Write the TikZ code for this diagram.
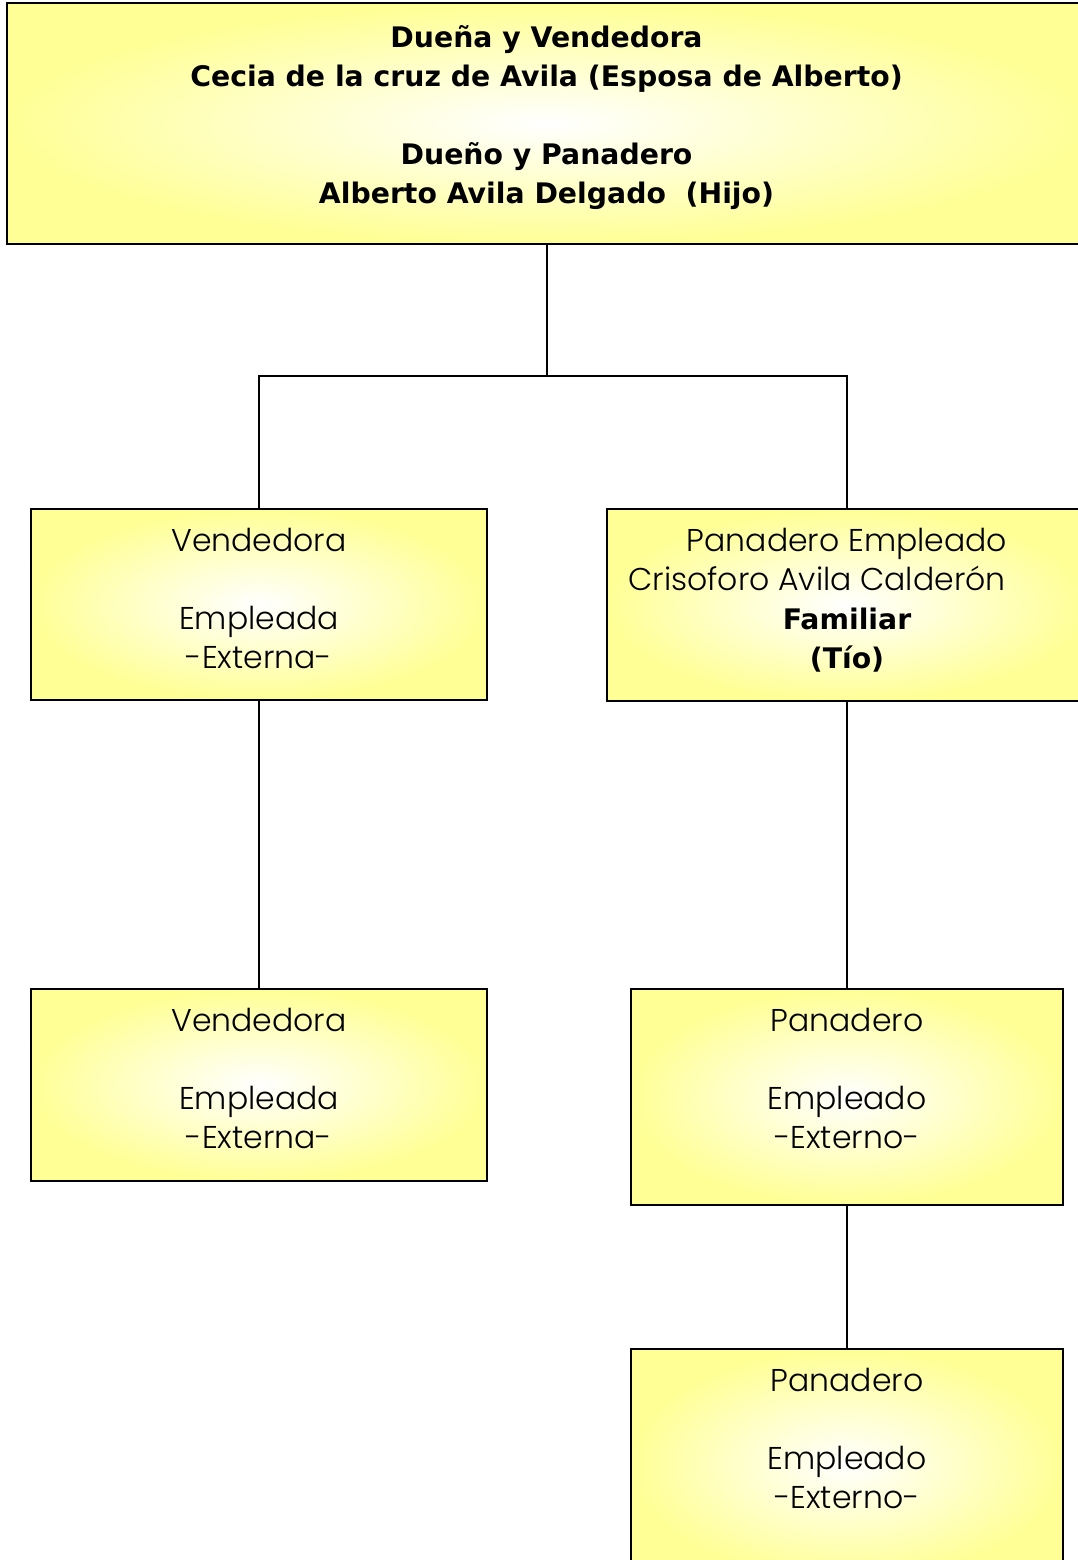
\documentclass[tikz,border=0pt]{standalone}
\usepackage{fontspec}
\setmainfont{Poppins}[UprightFont=* Light]
\newfontfamily\boldfam{DejaVu Sans}
\usetikzlibrary{calc}
\definecolor{boxyellow}{RGB}{255,255,150}
\tikzset{
  x=1pt, y=-1pt,
  orgbox/.style={draw=black, line width=1.7pt, rectangle, inner sep=0pt,
    inner color=white, outer color=boxyellow},
  conn/.style={draw=black, line width=1.7pt},
  reg/.style={inner sep=0pt, anchor=north, align=center,
    font=\fontsize{31.5}{39}\selectfont},
  bld/.style={inner sep=0pt, anchor=north, align=center,
    font=\boldfam\bfseries\fontsize{28.3}{39}\selectfont}
}
\newcommand{\bldtxt}[1]{{\boldfam\bfseries\fontsize{28.3}{39}\selectfont #1}}
\begin{document}
\begin{tikzpicture}
\useasboundingbox (0,0) rectangle (1078,1560);
% boxes
\node[orgbox, minimum width=1080pt, minimum height=241pt] (top) at (547,123.5) {};
\node[orgbox, minimum width=456pt, minimum height=191pt] (l1) at (259,604.5) {};
\node[orgbox, minimum width=480pt, minimum height=192pt] (r1) at (847,605) {};
\node[orgbox, minimum width=456pt, minimum height=192pt] (l2) at (259,1085) {};
\node[orgbox, minimum width=432pt, minimum height=216pt] (r2) at (847,1097) {};
\node[orgbox, minimum width=432pt, minimum height=230pt] (r3) at (847,1464) {};
% texts
\node[bld] (ttop) at (546.5,20) {\strut Dueña y Vendedora\\Cecia de la cruz de Avila (Esposa de Alberto)\\ \\Dueño y Panadero\\Alberto Avila Delgado\ \ (Hijo)};
\node[reg] (tl1) at (259,524) {\strut Vendedora\\ \\Empleada\\-Externa-};
\node[reg] (tr1) at (847,524) {\strut Panadero Empleado\\Crisoforo Avila Calderón\kern60pt\null\\\bldtxt{Familiar}\\\bldtxt{(Tío)}};
\node[reg] (tl2) at (259,1004) {\strut Vendedora\\ \\Empleada\\-Externa-};
\node[reg] (tr2) at (847,1004) {\strut Panadero\\ \\Empleado\\-Externo-};
\node[reg] (tr3) at (847,1364) {\strut Panadero\\ \\Empleado\\-Externo-};
% connectors
\coordinate (jn) at (547,376);
\draw[conn] (top.south) -- (jn);
\draw[conn] (jn) -| (l1.north);
\draw[conn] (jn) -| (r1.north);
\draw[conn] (l1.south) -- (l2.north);
\draw[conn] (r1.south) -- (r2.north);
\draw[conn] (r2.south) -- (r3.north);
\end{tikzpicture}
\end{document}
